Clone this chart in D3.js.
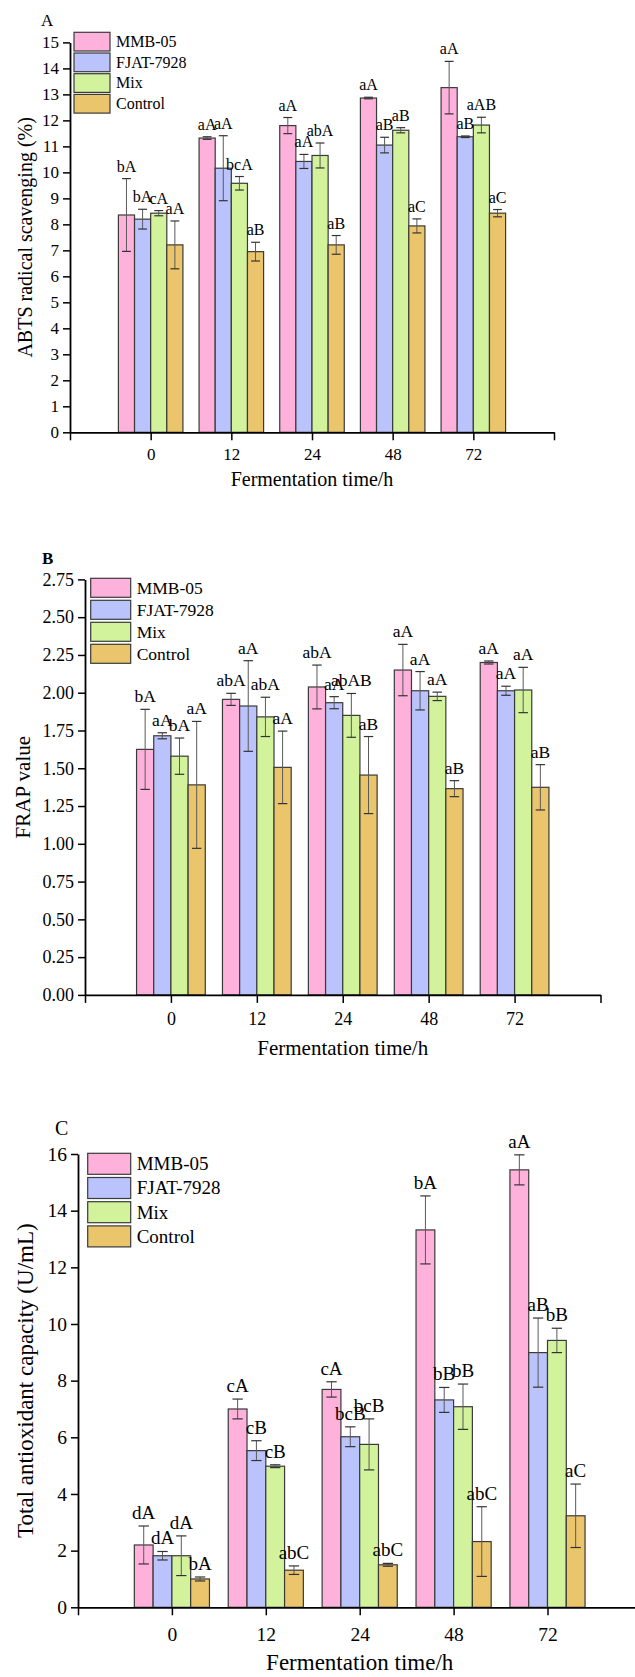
<!DOCTYPE html>
<html>
<head>
<meta charset="utf-8">
<script src="https://cdn.jsdelivr.net/npm/d3@7"></script>
<style>
  body { margin: 0; background: #fff; }
  svg { display: block; }
  text { font-family: "Liberation Serif", "Times New Roman", serif; fill: #000; }
</style>
</head>
<body>
<svg id="fig" width="635" height="1677"></svg>
<script>
// ---------- data ----------
const categories = ["0", "12", "24", "48", "72"];
const seriesNames = ["MMB-05", "FJAT-7928", "Mix", "Control"];

// A: ABTS radical scavenging (%), rows = series, columns = fermentation time
const abtsMeans = [
  [8.36, 11.32, 11.80, 12.86, 13.26],
  [8.20, 10.16, 10.42, 11.05, 11.37],
  [8.43, 9.58, 10.65, 11.62, 11.82],
  [7.21, 6.95, 7.21, 7.94, 8.43]
];
const abtsErrors = [
  [1.40, 0.05, 0.31, 0.03, 1.01],
  [0.38, 1.25, 0.27, 0.30, 0.03],
  [0.10, 0.26, 0.48, 0.10, 0.30],
  [0.92, 0.36, 0.36, 0.27, 0.14]
];
const abtsLetters = [
  ["bA", "aA", "aA", "aA", "aA"],
  ["bA", "aA", "aA", "aB", "aB"],
  ["cA", "bcA", "abA", "aB", "aAB"],
  ["aA", "aB", "aB", "aC", "aC"]
];
const abtsTicks = [0, 1, 2, 3, 4, 5, 6, 7, 8, 9, 10, 11, 12, 13, 14, 15];

// B: FRAP value
const frapMeans = [
  [1.625, 1.956, 2.038, 2.150, 2.200],
  [1.715, 1.912, 1.934, 2.013, 2.013],
  [1.580, 1.840, 1.850, 1.976, 2.018],
  [1.390, 1.506, 1.455, 1.365, 1.374]
];
const frapErrors = [
  [0.265, 0.040, 0.145, 0.170, 0.010],
  [0.020, 0.300, 0.040, 0.127, 0.030],
  [0.120, 0.130, 0.145, 0.028, 0.150],
  [0.420, 0.240, 0.255, 0.053, 0.150]
];
const frapLetters = [
  ["bA", "abA", "abA", "aA", "aA"],
  ["aA", "aA", "aA", "aA", "aA"],
  ["bA", "abA", "abAB", "aA", "aA"],
  ["aA", "aA", "aB", "aB", "aB"]
];
const frapTicks = [0, 0.25, 0.5, 0.75, 1, 1.25, 1.5, 1.75, 2, 2.25, 2.5, 2.75];

// C: Total antioxidant capacity (U/mL)
const taocMeans = [
  [2.20, 7.00, 7.69, 13.32, 15.44],
  [1.82, 5.53, 6.02, 7.32, 8.99],
  [1.82, 4.98, 5.75, 7.08, 9.42],
  [1.00, 1.31, 1.50, 2.32, 3.23]
];
const taocErrors = [
  [0.67, 0.35, 0.27, 1.20, 0.53],
  [0.15, 0.35, 0.35, 0.44, 1.22],
  [0.70, 0.05, 0.90, 0.80, 0.43],
  [0.07, 0.15, 0.05, 1.23, 1.12]
];
const taocLetters = [
  ["dA", "cA", "cA", "bA", "aA"],
  ["dA", "cB", "bcB", "bB", "aB"],
  ["dA", "cB", "bcB", "bB", "bB"],
  ["bA", "abC", "abC", "abC", "aC"]
];
const taocTicks = [0, 2, 4, 6, 8, 10, 12, 14, 16];

// ---------- styling ----------
const seriesColors = ["#FEB1DB", "#BBC3FC", "#D2F29C", "#EAC56C"];
const outline = "#3a3a3a";

const svg = d3.select("#fig");

// ---------- one grouped-bar panel ----------
function drawPanel(p) {
  const g = svg.append("g");
  const x = d3.scaleLinear().domain([0, categories.length + 1]).range([p.left, p.right]);
  const y = d3.scaleLinear().domain([0, p.yMax]).range([p.bottom, p.top]);
  const step = x(1) - x(0);
  const bw = step * 0.2;
  const nS = seriesNames.length;

  const cells = [];
  p.means.forEach((row, s) => row.forEach((v, i) => {
    cells.push({ s, i, v, e: p.errors[s][i], lab: p.letters[s][i],
                 x0: x(i + 1) - (nS / 2) * bw + s * bw });
  }));

  // bars
  g.selectAll("rect.bar").data(cells).join("rect")
    .attr("class", "bar")
    .attr("x", d => d.x0).attr("width", bw)
    .attr("y", d => y(d.v)).attr("height", d => y(0) - y(d.v))
    .attr("fill", d => seriesColors[d.s])
    .attr("stroke", outline).attr("stroke-width", 1.2);

  // error bars
  const capW = bw * 0.55;
  const eb = g.selectAll("g.err").data(cells).join("g").attr("class", "err");
  eb.append("line")
    .attr("x1", d => d.x0 + bw / 2).attr("x2", d => d.x0 + bw / 2)
    .attr("y1", d => y(d.v + d.e)).attr("y2", d => y(d.v - d.e))
    .attr("stroke", "#5a5a5a").attr("stroke-width", 1);
  [1, -1].forEach(sign => {
    eb.append("line")
      .attr("x1", d => d.x0 + bw / 2 - capW / 2).attr("x2", d => d.x0 + bw / 2 + capW / 2)
      .attr("y1", d => y(d.v + sign * d.e)).attr("y2", d => y(d.v + sign * d.e))
      .attr("stroke", "#333").attr("stroke-width", 1.2);
  });

  // significance letters
  g.selectAll("text.sig").data(cells).join("text")
    .attr("class", "sig")
    .attr("x", d => d.x0 + bw / 2)
    .attr("y", d => y(d.v + d.e) - 7)
    .attr("text-anchor", "middle")
    .style("font-size", p.fs + "px")
    .text(d => d.lab);

  // y axis
  const ya = g.append("g").attr("transform", `translate(${p.left},0)`)
    .call(d3.axisLeft(y).tickValues(p.ticks).tickFormat(p.fmt)
      .tickSize(7).tickSizeOuter(0).tickPadding(4));
  ya.select(".domain").attr("stroke", "#000").attr("stroke-width", 1.8);
  ya.selectAll(".tick line").attr("stroke", "#000").attr("stroke-width", 1.5);
  ya.selectAll(".tick text").style("font-size", p.tickFs + "px")
    .style("font-family", '"Liberation Serif","Times New Roman",serif').attr("fill", "#000");

  // x axis
  const xa = g.append("g").attr("transform", `translate(0,${p.bottom})`)
    .call(d3.axisBottom(x).tickValues(d3.range(0, categories.length + 2))
      .tickFormat(d => categories[d - 1] || "")
      .tickSize(8).tickSizeOuter(0));
  xa.select(".domain").attr("stroke", "#000").attr("stroke-width", 1.8);
  xa.selectAll(".tick line").attr("stroke", "#000").attr("stroke-width", 1.5);
  xa.selectAll(".tick text").style("font-size", p.tickFs + "px")
    .style("font-family", '"Liberation Serif","Times New Roman",serif').attr("fill", "#000")
    .attr("y", p.xLabelOffset).attr("dy", 0);

  // axis titles
  g.append("text")
    .attr("x", (p.left + p.right) / 2).attr("y", p.xTitleY)
    .attr("text-anchor", "middle").style("font-size", p.titleFs + "px")
    .text("Fermentation time/h");
  g.append("text")
    .attr("transform", `translate(${p.yTitleX},${(p.top + p.bottom) / 2}) rotate(-90)`)
    .attr("text-anchor", "middle").style("font-size", p.titleFs + "px")
    .text(p.yTitle);

  // panel letter
  g.append("text").attr("x", p.letterX).attr("y", p.letterY)
    .style("font-size", p.letterFs + "px")
    .style("font-weight", p.letterBold ? "bold" : "normal")
    .text(p.letter);

  // legend
  const lg = g.append("g");
  seriesNames.forEach((name, s) => {
    const top = p.legY + s * p.legStep;
    lg.append("rect").attr("x", p.legX).attr("y", top)
      .attr("width", p.legW).attr("height", p.legH)
      .attr("fill", seriesColors[s]).attr("stroke", outline).attr("stroke-width", 1.2);
    lg.append("text").attr("x", p.legX + p.legW + 6).attr("y", top + p.legH / 2 + p.fs * 0.34)
      .style("font-size", p.fs + "px").text(name);
  });
}

drawPanel({
  means: abtsMeans, errors: abtsErrors, letters: abtsLetters, ticks: abtsTicks, fmt: d3.format("d"),
  yMax: 15, left: 70, right: 554, top: 42.4, bottom: 432.3,
  fs: 16, tickFs: 17, titleFs: 20, xLabelOffset: 28, xTitleY: 486, yTitleX: 31.5,
  yTitle: "ABTS radical scavenging (%)",
  letter: "A", letterX: 41, letterY: 26, letterFs: 17, letterBold: false,
  legX: 74, legY: 32.3, legW: 36, legH: 18.7, legStep: 20.7
});

drawPanel({
  means: frapMeans, errors: frapErrors, letters: frapLetters, ticks: frapTicks, fmt: d3.format(".2f"),
  yMax: 2.75, left: 85, right: 600.5, top: 579.4, bottom: 994.9,
  fs: 17.5, tickFs: 18, titleFs: 21, xLabelOffset: 30, xTitleY: 1055, yTitleX: 30,
  yTitle: "FRAP value",
  letter: "B", letterX: 42, letterY: 564, letterFs: 17, letterBold: true,
  legX: 90.7, legY: 578.3, legW: 40, legH: 19, legStep: 22
});

drawPanel({
  means: taocMeans, errors: taocErrors, letters: taocLetters, ticks: taocTicks, fmt: d3.format("d"),
  yMax: 16, left: 78, right: 641.4, top: 1154, bottom: 1607.3,
  fs: 19, tickFs: 19.5, titleFs: 23, xLabelOffset: 34, xTitleY: 1670, yTitleX: 33,
  yTitle: "Total antioxidant capacity (U/mL)",
  letter: "C", letterX: 55, letterY: 1135, letterFs: 20, letterBold: false,
  legX: 87.7, legY: 1153.3, legW: 43, legH: 21, legStep: 24.2
});
</script>
</body>
</html>
